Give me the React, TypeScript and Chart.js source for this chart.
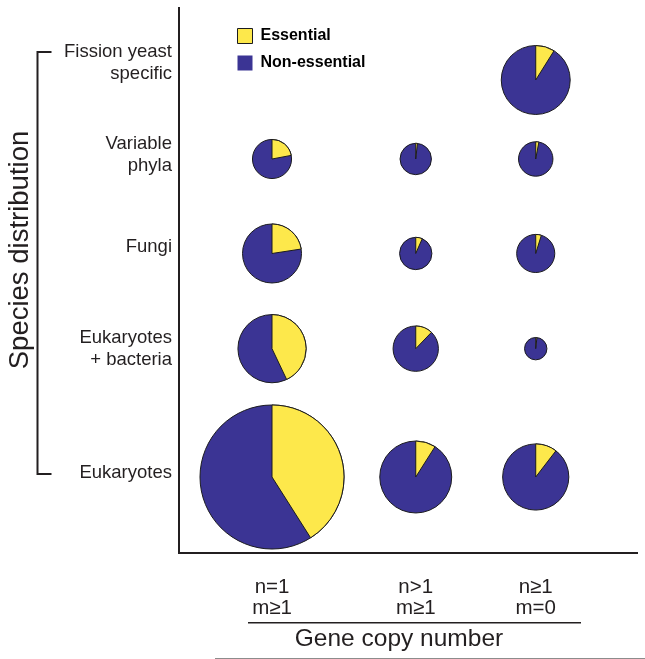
import { useEffect, useRef } from 'react';
import { Chart, registerables } from 'chart.js';

Chart.register(...registerables);

// ---------- data ----------
// rows listed bottom → top, columns left → right
const ROW_LABELS: string[][] = [
  ['Eukaryotes'],
  ['Eukaryotes', '+ bacteria'],
  ['Fungi'],
  ['Variable', 'phyla'],
  ['Fission yeast', 'specific'],
];
const COLUMN_LABELS: string[][] = [
  ['n=1', 'm≥1'],
  ['n>1', 'm≥1'],
  ['n≥1', 'm=0'],
];
const SERIES_LABELS = ['Essential', 'Non-essential'];

// number of genes per cell (row × column)
const ESSENTIAL_GENES: number[][] = [
  [984, 54, 53],
  [231, 29, 1],
  [91, 8, 8],
  [39, 2, 4],
  [0, 0, 49],
];
const NON_ESSENTIAL_GENES: number[][] = [
  [1416, 545, 454],
  [307, 209, 57],
  [312, 113, 160],
  [138, 112, 133],
  [0, 0, 501],
];

const Y_TITLE = 'Species distribution';
const X_TITLE = 'Gene copy number';

// ---------- layout (scale units, not data) ----------
const ROW_POS = [0, 1.293, 2.252, 3.204, 4.0];
const ROW_LABEL_POS = [0.041, 1.293, 2.315, 3.246, 4.171];
const COL_POS = [0, 1.09, 2];
const X_MIN = -0.7054;
const X_MAX = 2.768;
const Y_MIN = -0.7657;
const Y_MAX = 4.7254;
const RADIUS_PER_SQRT_GENE = 1.47;

// ---------- style ----------
const FONT = "'Liberation Sans', Arial, Helvetica, sans-serif";
const TEXT = '#231f20';
const OUTLINE = '#1b1b1f';
const BLUE = '#3b3494';
const YELLOW = '#fde84b';

type Cell = { x: number; y: number; r: number; essential: number; total: number };

function buildCells(): Cell[] {
  const cells: Cell[] = [];
  ROW_POS.forEach((yv, ri) => {
    COL_POS.forEach((xv, ci) => {
      const e = ESSENTIAL_GENES[ri][ci];
      const n = NON_ESSENTIAL_GENES[ri][ci];
      const total = e + n;
      if (!total) return;
      cells.push({ x: xv, y: yv, r: Math.sqrt(total) * RADIUS_PER_SQRT_GENE, essential: e, total });
    });
  });
  return cells;
}

const essentialWedges = {
  id: 'essentialWedges',
  afterDatasetsDraw(chart: any) {
    const meta = chart.getDatasetMeta(0);
    const data = chart.data.datasets[0].data as Cell[];
    const ctx = chart.ctx as CanvasRenderingContext2D;
    meta.data.forEach((el: any, i: number) => {
      const cell = data[i];
      const frac = cell.essential / cell.total;
      if (frac <= 0) return;
      const { x, y } = el.getProps(['x', 'y'], true);
      const R = el.options.radius;
      const start = -Math.PI / 2;
      ctx.save();
      ctx.beginPath();
      ctx.moveTo(x, y);
      ctx.arc(x, y, R, start, start + 2 * Math.PI * frac);
      ctx.closePath();
      ctx.fillStyle = YELLOW;
      ctx.fill();
      ctx.lineWidth = 1;
      ctx.strokeStyle = OUTLINE;
      ctx.stroke();
      ctx.restore();
    });
  },
};

const legendPlacement = {
  id: 'legendPlacement',
  afterLayout(chart: any) {
    const lg = chart.legend;
    if (!lg) return;
    lg.left = 226.5;
    lg.right = lg.left + lg.width;
    lg.top = 17;
    lg.bottom = lg.top + 120;
  },
};

const decor = {
  id: 'decor',
  afterDraw(chart: any) {
    const ctx = chart.ctx as CanvasRenderingContext2D;
    const yScale = chart.scales.y;
    ctx.save();
    ctx.fillStyle = TEXT;
    ctx.strokeStyle = TEXT;

    // y-axis title (rotated)
    ctx.save();
    ctx.font = `27.5px ${FONT}`;
    ctx.translate(27.5, 250);
    ctx.rotate(-Math.PI / 2);
    ctx.textAlign = 'center';
    ctx.textBaseline = 'alphabetic';
    ctx.fillText(Y_TITLE, 0, 0);
    ctx.restore();

    // bracket spanning the row labels
    const top = yScale.getPixelForValue(ROW_LABEL_POS[ROW_LABEL_POS.length - 1]) - 11;
    const bottom = yScale.getPixelForValue(ROW_LABEL_POS[0]) + 1;
    ctx.lineWidth = 2;
    ctx.beginPath();
    ctx.moveTo(51.5, top);
    ctx.lineTo(37.5, top);
    ctx.lineTo(37.5, bottom);
    ctx.lineTo(51.5, bottom);
    ctx.stroke();

    // x-axis title with rule above it
    ctx.lineWidth = 1.5;
    ctx.beginPath();
    ctx.moveTo(248, 622.75);
    ctx.lineTo(581, 622.75);
    ctx.stroke();
    ctx.font = `24.5px ${FONT}`;
    ctx.textAlign = 'center';
    ctx.textBaseline = 'alphabetic';
    ctx.fillText(X_TITLE, 399, 646);

    // faint rule at the bottom
    ctx.strokeStyle = '#8c8c8c';
    ctx.lineWidth = 1;
    ctx.beginPath();
    ctx.moveTo(215, 658.5);
    ctx.lineTo(645, 658.5);
    ctx.stroke();
    ctx.restore();
  },
};

export default function App() {
  const ref = useRef<HTMLCanvasElement>(null);

  useEffect(() => {
    const canvas = ref.current;
    if (!canvas) return;
    const chart = new Chart(canvas, {
      type: 'bubble',
      data: {
        datasets: [
          {
            label: 'Genes',
            data: buildCells() as any,
            backgroundColor: BLUE,
            borderColor: OUTLINE,
            borderWidth: 1,
          },
        ],
      },
      options: {
        responsive: false,
        animation: false,
        devicePixelRatio: 1,
        events: [],
        layout: { autoPadding: false, padding: { left: 0, top: 8, right: 8, bottom: 0 } },
        scales: {
          x: {
            type: 'linear',
            position: 'bottom',
            min: X_MIN,
            max: X_MAX,
            grid: { display: false, drawTicks: false },
            border: { display: true, color: TEXT, width: 2 },
            afterBuildTicks: (scale: any) => {
              scale.ticks = COL_POS.map((v) => ({ value: v }));
            },
            afterFit: (scale: any) => {
              scale.height = 106;
              scale.paddingLeft = 0;
              scale.paddingRight = 0;
            },
            ticks: {
              autoSkip: false,
              maxRotation: 0,
              minRotation: 0,
              padding: 23,
              color: TEXT,
              font: { family: FONT, size: 20.5, lineHeight: 1.06 },
              callback: (_v: any, i: number) => COLUMN_LABELS[i],
            },
          },
          y: {
            type: 'linear',
            position: 'left',
            min: Y_MIN,
            max: Y_MAX,
            grid: { display: false, drawTicks: false },
            border: { display: true, color: TEXT, width: 2 },
            afterBuildTicks: (scale: any) => {
              scale.ticks = ROW_LABEL_POS.map((v) => ({ value: v }));
            },
            afterFit: (scale: any) => {
              scale.width = 179;
              scale.paddingTop = 0;
              scale.paddingBottom = 0;
            },
            ticks: {
              autoSkip: false,
              padding: 7,
              color: TEXT,
              font: { family: FONT, size: 18.5, lineHeight: 1.17 },
              callback: (_v: any, i: number) => ROW_LABELS[i],
            },
          },
        },
        plugins: {
          tooltip: { enabled: false },
          legend: {
            display: true,
            position: 'chartArea' as any,
            align: 'start',
            labels: {
              boxWidth: 15,
              boxHeight: 15,
              padding: 11,
              color: TEXT,
              font: { family: FONT, size: 16, weight: 'bold' },
              generateLabels: () => [
                { text: SERIES_LABELS[0], fillStyle: YELLOW, strokeStyle: OUTLINE, lineWidth: 1, hidden: false, datasetIndex: 0 },
                { text: SERIES_LABELS[1], fillStyle: BLUE, strokeStyle: BLUE, lineWidth: 0, hidden: false, datasetIndex: 0 },
              ],
            },
          },
        },
      },
      plugins: [essentialWedges, legendPlacement, decor],
    });
    return () => chart.destroy();
  }, []);

  return (
    <div style={{ position: 'absolute', left: 0, top: 0, width: 645, height: 659, background: '#fff' }}>
      <canvas ref={ref} width={645} height={659} style={{ display: 'block' }} />
    </div>
  );
}
